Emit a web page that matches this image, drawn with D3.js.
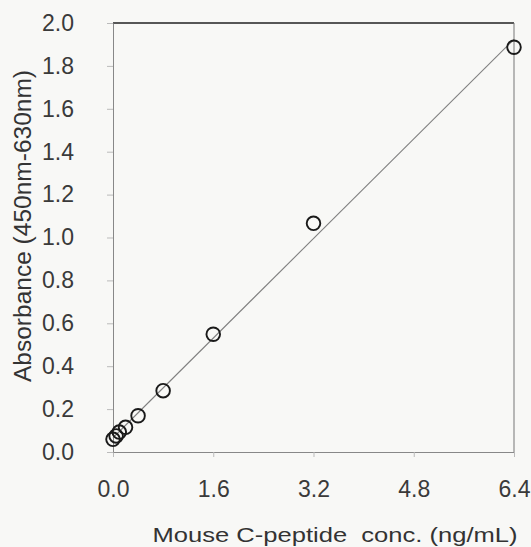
<!DOCTYPE html>
<html>
<head>
<meta charset="utf-8">
<script src="https://cdn.jsdelivr.net/npm/d3@7"></script>
<style>
  html, body { margin: 0; padding: 0; background: #f8f8f6; }
  svg { display: block; }
  .tick text { font-family: "Liberation Sans", Arial, sans-serif; fill: #3a3a3a; }
  .title { font-family: "Liberation Sans", Arial, sans-serif; fill: #333; }
</style>
</head>
<body>
<div id="chart"></div>
<script>
// standard curve readings
var concentrations = [0, 0.05, 0.1, 0.2, 0.4, 0.8, 1.6, 3.2, 6.4];
var absorbance = [0.059, 0.075, 0.093, 0.115, 0.169, 0.286, 0.549, 1.066, 1.887];
var xTicks = [0, 1.6, 3.2, 4.8, 6.4];
var yTicks = [0, 0.2, 0.4, 0.6, 0.8, 1.0, 1.2, 1.4, 1.6, 1.8, 2.0];

var W = 531, H = 547;
var MARGIN = { top: 23, right: 17, bottom: 95, left: 113 };
var width = W - MARGIN.left - MARGIN.right;
var height = H - MARGIN.top - MARGIN.bottom;

var data = concentrations.map(function(c, i) { return { x: c, y: absorbance[i] }; });

var x = d3.scaleLinear().domain([0, 6.4]).range([0, width]);
var y = d3.scaleLinear().domain([0, 2]).range([height, 0]);

var svg = d3.select("#chart").append("svg")
  .attr("width", W).attr("height", H)
  .append("g")
  .attr("transform", "translate(" + MARGIN.left + "," + MARGIN.top + ")");

// frame: top and right edges
svg.append("line").attr("x1", 0).attr("x2", width).attr("y1", 0).attr("y2", 0)
  .attr("stroke", "#222").attr("stroke-width", 1.3);
svg.append("line").attr("x1", width).attr("x2", width).attr("y1", 0).attr("y2", height)
  .attr("stroke", "#777").attr("stroke-width", 1);

var xAxis = d3.axisBottom(x).tickValues(xTicks).tickFormat(d3.format(".1f"))
  .tickSizeInner(5).tickSizeOuter(0).tickPadding(24);
var yAxis = d3.axisLeft(y).tickValues(yTicks).tickFormat(d3.format(".1f"))
  .tickSizeInner(6).tickSizeOuter(0).tickPadding(33);

var gx = svg.append("g").attr("class", "x axis")
  .attr("transform", "translate(0," + height + ")").call(xAxis);
var gy = svg.append("g").attr("class", "y axis").call(yAxis);

[gx, gy].forEach(function(g) {
  g.select(".domain").attr("stroke", "#888");
  g.selectAll(".tick line").attr("stroke", "#bbb");
  g.selectAll(".tick text").style("font-size", "23px");
});

// least squares line through the standards
var mx = d3.mean(data, function(d) { return d.x; });
var my = d3.mean(data, function(d) { return d.y; });
var sxy = d3.sum(data, function(d) { return (d.x - mx) * (d.y - my); });
var sxx = d3.sum(data, function(d) { return (d.x - mx) * (d.x - mx); });
var slope = sxy / sxx, icpt = my - slope * mx;
var fit = [0, 6.4].map(function(v) { return { x: v, y: icpt + slope * v }; });

svg.append("path").datum(fit)
  .attr("fill", "none").attr("stroke", "#808080").attr("stroke-width", 1.1)
  .attr("d", d3.line().x(function(d) { return x(d.x); }).y(function(d) { return y(d.y); }));

svg.selectAll("circle.pt").data(data).enter().append("circle")
  .attr("class", "pt")
  .attr("cx", function(d) { return x(d.x); })
  .attr("cy", function(d) { return y(d.y); })
  .attr("r", 6.8)
  .attr("fill", "none").attr("stroke", "#1a1a1a").attr("stroke-width", 1.9);

svg.append("text").attr("class", "title")
  .attr("x", 222).attr("y", height + 90)
  .attr("text-anchor", "middle").style("font-size", "21px")
  .attr("textLength", 365).attr("lengthAdjust", "spacingAndGlyphs")
  .text("Mouse C-peptide\u00a0 conc. (ng/mL)");

svg.append("text").attr("class", "title")
  .attr("transform", "translate(" + (-MARGIN.left + 31) + "," + (226 - MARGIN.top) + ") rotate(-90)")
  .attr("text-anchor", "middle").style("font-size", "23px")
  .attr("textLength", 312).attr("lengthAdjust", "spacingAndGlyphs")
  .text("Absorbance (450nm-630nm)");
</script>
</body>
</html>
